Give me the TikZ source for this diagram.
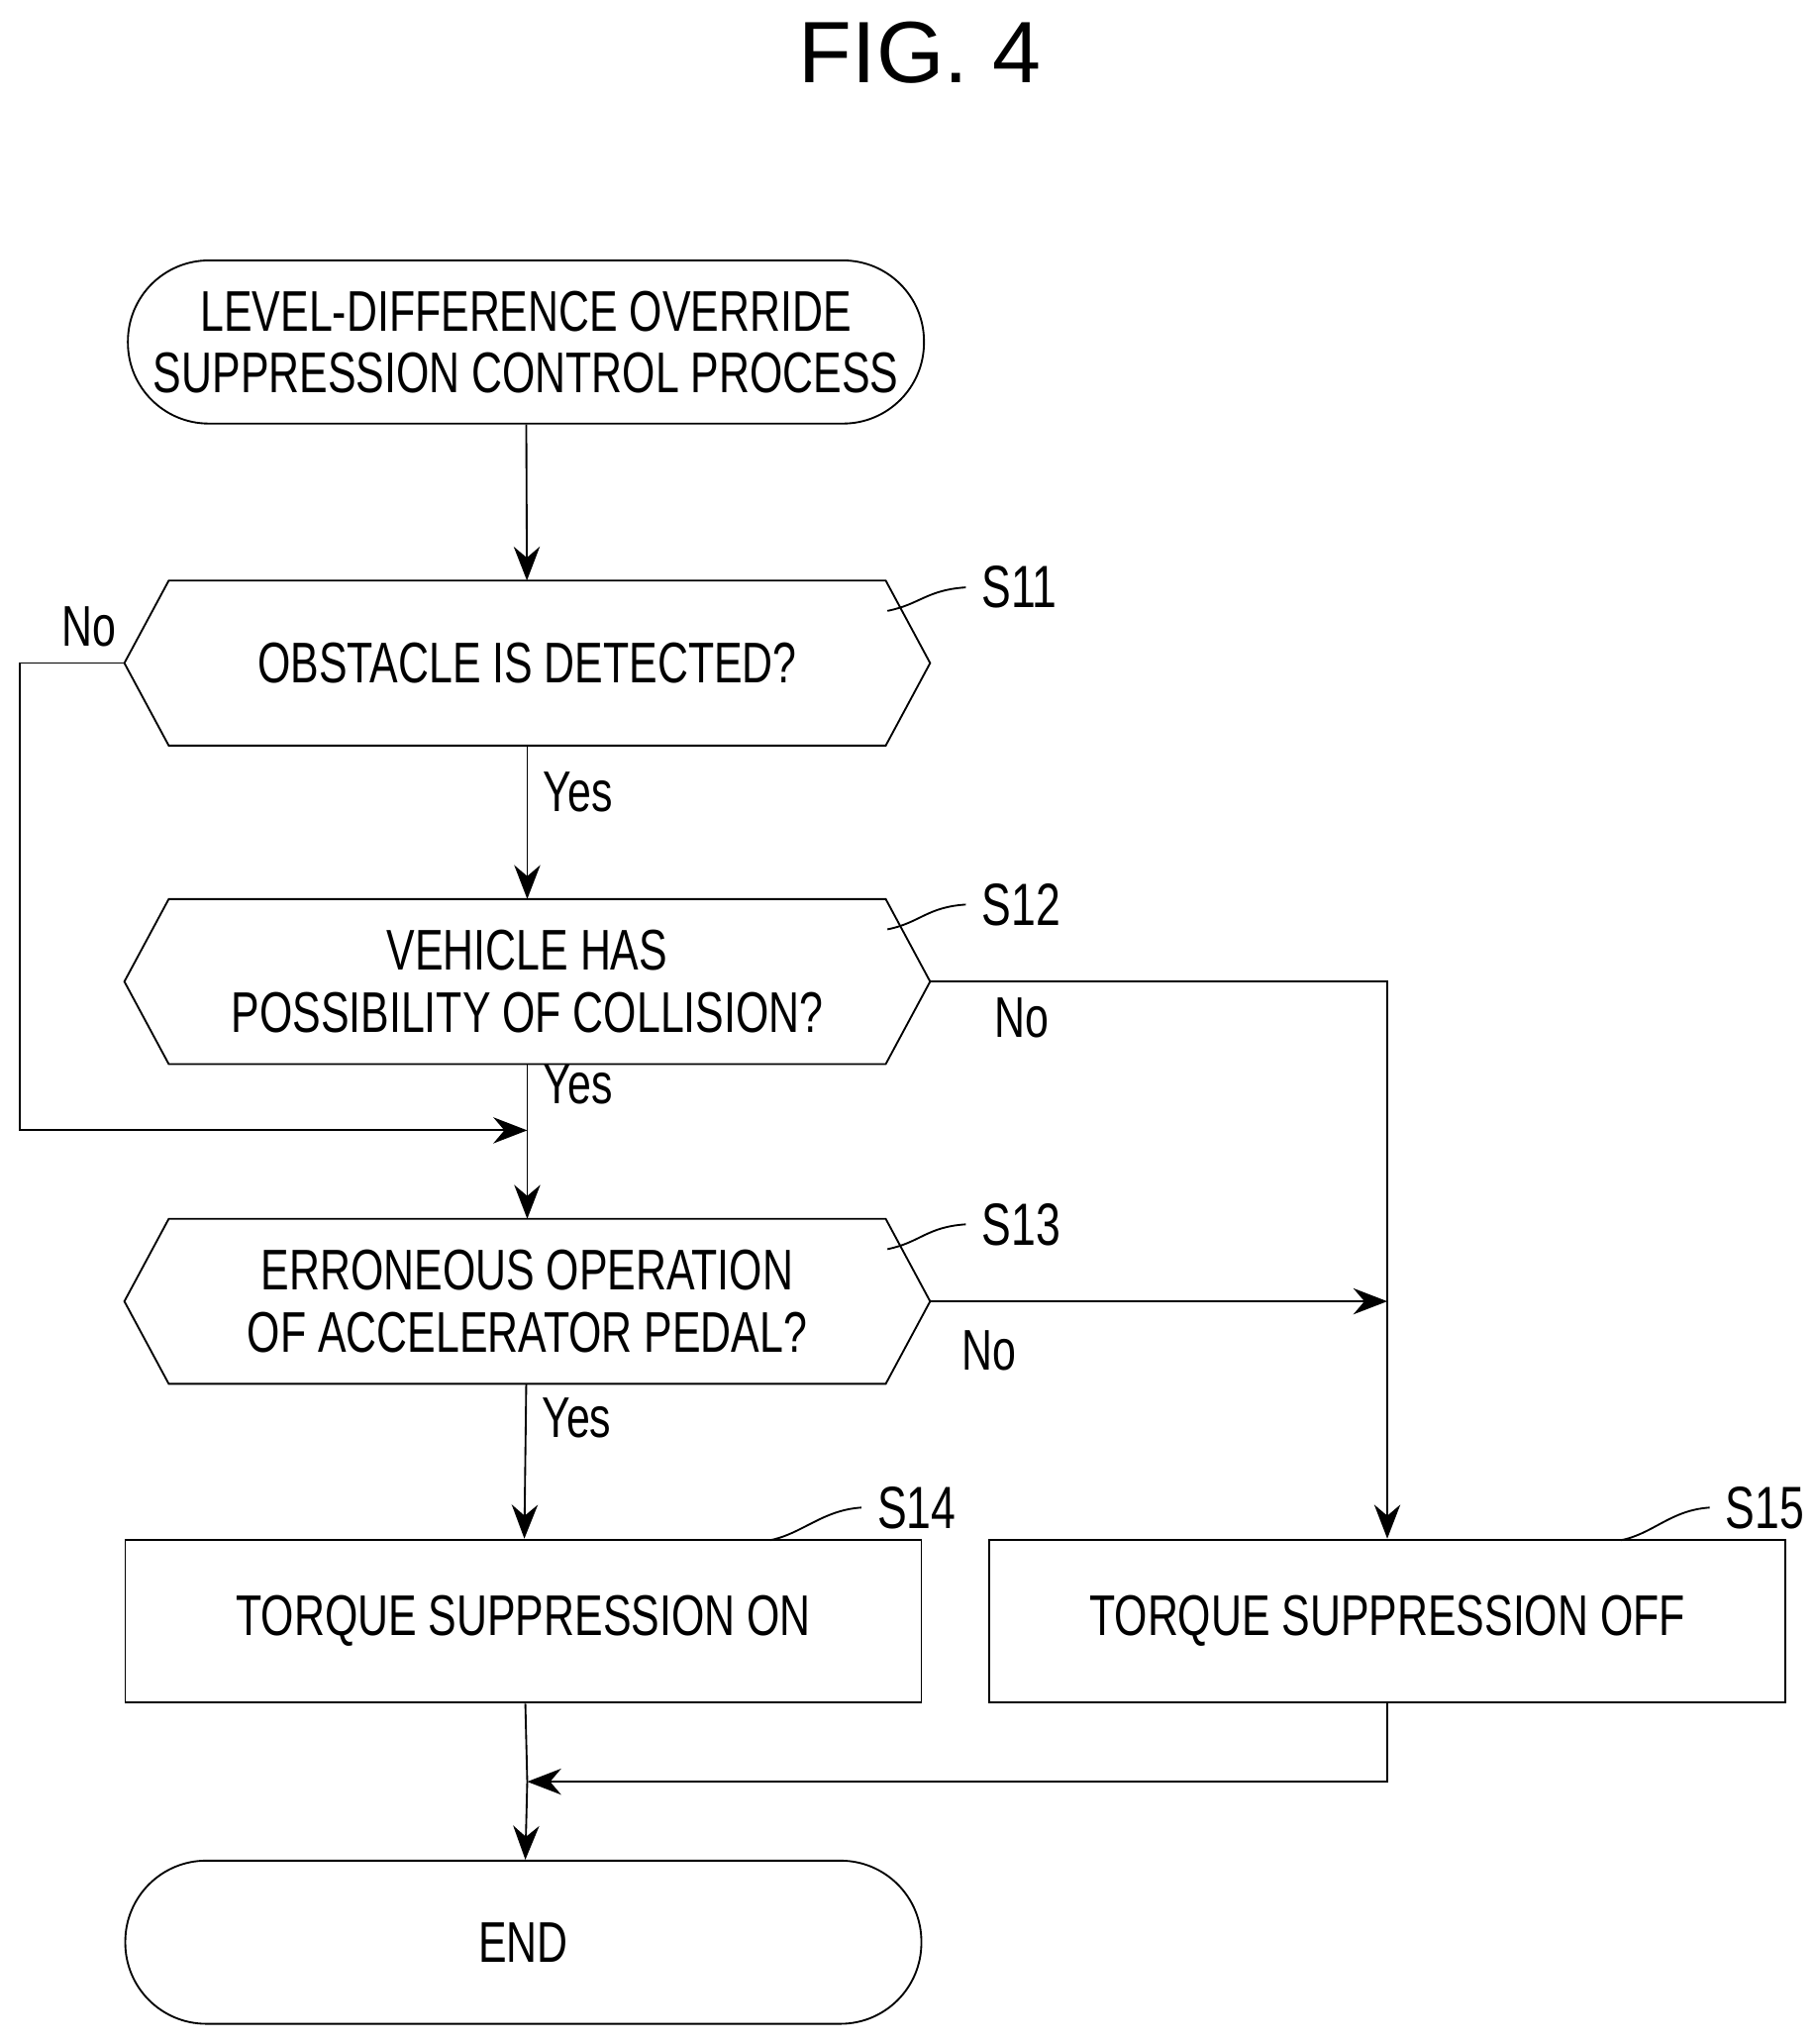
\documentclass[tikz,border=0pt]{standalone}
\usepackage{fontspec}
\setmainfont{Liberation Sans}[FakeStretch=0.74]
\newfontfamily\figfont{Liberation Sans}
\usetikzlibrary{arrows.meta,positioning,calc}

\tikzset{
  box/.style={draw,minimum width=6.1cm,minimum height=1.25cm,align=center,font=\fontsize{12.5}{13.5}\selectfont},
  term/.style={box,rounded corners=0.62cm},
  cond/.style={minimum width=6.16cm,minimum height=1.25cm,align=center,font=\fontsize{12.5}{13.5}\selectfont},
  flow/.style={-{Stealth[length=2.6mm,width=2mm]}},
  lbl/.style={font=\fontsize{12.5}{13.5}\selectfont},
  tag/.style={font=\fontsize{13}{14}\selectfont,anchor=west}
}
\newcommand{\hexa}[1]{%
  \draw ($(#1.west)$) -- ($(#1.north west)+(0.34,0)$) -- ($(#1.north east)-(0.34,0)$)
    -- (#1.east) -- ($(#1.south east)-(0.34,0)$) -- ($(#1.south west)+(0.34,0)$) -- cycle;}

\begin{document}
\begin{tikzpicture}[y=-1cm]
\useasboundingbox (0,0) rectangle (13.9,15.66);
\node[font=\figfont\fontsize{19}{20}\selectfont] (fig) at (7.05,0.4) {FIG. 4};

\node[term] (start) at (4.03,2.62) {LEVEL-DIFFERENCE OVERRIDE\\SUPPRESSION CONTROL PROCESS};
\node[cond] (s11) at (4.04,5.08) {OBSTACLE IS DETECTED?};
\node[cond] (s12) at (4.04,7.52) {VEHICLE HAS\\POSSIBILITY OF COLLISION?};
\node[cond] (s13) at (4.04,9.97) {ERRONEOUS OPERATION\\OF ACCELERATOR PEDAL?};
\hexa{s11}\hexa{s12}\hexa{s13}
\node[box] (s14) at (4.01,12.42) {TORQUE SUPPRESSION ON};
\node[box] (s15) at (10.63,12.42) {TORQUE SUPPRESSION OFF};
\node[term] (end) at (4.01,14.88) {END};

% step tags
\node[tag] (t11) at (7.4,4.5) {S11};
\node[tag] (t12) at (7.4,6.93) {S12};
\node[tag] (t13) at (7.4,9.38) {S13};
\node[tag] (t14) at (6.6,11.55) {S14};
\node[tag] (t15) at (13.1,11.55) {S15};
\foreach \t/\x/\y in {t11/6.8/4.68,t12/6.8/7.12,t13/6.8/9.57,t14/5.9/11.8,t15/12.42/11.8}
  \draw (\x,\y) .. controls (\x+0.25,\y-0.05) and ($(\t.west)+(-0.3,0.02)$) .. (\t.west);

% helpers
\coordinate (join1) at (4.04,8.66);
\coordinate (join2) at (10.63,9.97);
\coordinate (join3) at (4.04,13.65);

\draw[flow] (start) -- (s11);
\draw[flow] (s11) -- node[lbl,right,pos=0.3] {Yes} (s12);
\draw (s12) -- node[lbl,right,pos=0.3] {Yes} (join1);
\draw[flow] (join1) -- (s13);
\draw[flow] (s13) -- node[lbl,right,pos=0.22] {Yes} (s14);
\draw[flow] (s11.west) -- ++(-0.8,0) node[lbl,above right,xshift=0.2cm] {No} |- (join1);
\draw[flow] (s12.east) -| node[lbl,pos=0.1,below] {No} (s15.north);
\draw[flow] (s13.east) -- node[lbl,pos=0.13,below=0.1cm] {No} (join2);
\draw (s14) -- (join3);
\draw[flow] (join3) -- (end);
\draw[flow] (s15.south) |- (join3);
\end{tikzpicture}
\end{document}
